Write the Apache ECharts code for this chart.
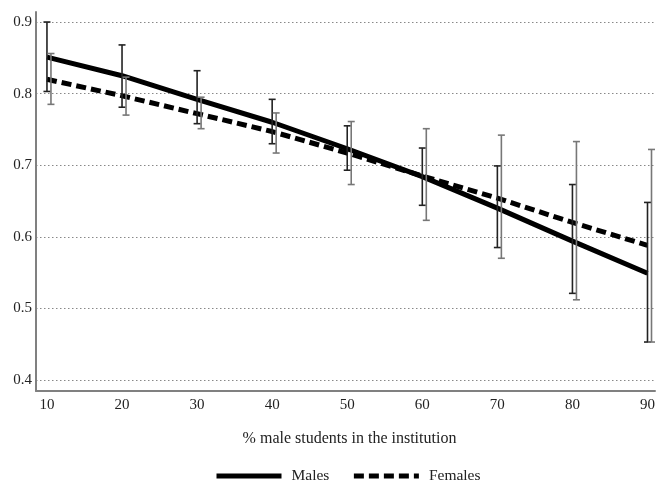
<!DOCTYPE html>
<html><head><meta charset="utf-8">
<script src="https://cdn.jsdelivr.net/npm/echarts@6/dist/echarts.min.js"></script>
<style>html,body{margin:0;padding:0;background:#fff}#c{width:658px;height:483px}</style>
</head><body><div id="c"></div>
<script>
const xValues = [10, 20, 30, 40, 50, 60, 70, 80, 90];
const xTicks = [10, 20, 30, 40, 50, 60, 70, 80, 90];
const yTicks = [0.4, 0.5, 0.6, 0.7, 0.8, 0.9];
const males = [0.851, 0.825, 0.792, 0.760, 0.723, 0.684, 0.640, 0.594, 0.549];
const females = [0.820, 0.797, 0.772, 0.747, 0.717, 0.685, 0.654, 0.620, 0.588];
const malesLow = [0.803, 0.781, 0.758, 0.730, 0.693, 0.644, 0.585, 0.521, 0.453];
const malesHigh = [0.900, 0.868, 0.832, 0.792, 0.755, 0.724, 0.699, 0.673, 0.648];
const femalesLow = [0.785, 0.770, 0.751, 0.717, 0.673, 0.623, 0.570, 0.512, 0.453];
const femalesHigh = [0.856, 0.823, 0.795, 0.773, 0.761, 0.751, 0.742, 0.733, 0.722];

const font = '"Liberation Serif", "DejaVu Serif", serif';
function errBar(color, dx) {
  return function (params, api) {
    const x = api.value(0), lo = api.value(1), hi = api.value(2);
    const pLo = api.coord([x, lo]), pHi = api.coord([x, hi]);
    const cx = pLo[0] + dx, w = 3.5;
    const st = { stroke: color, lineWidth: 1.6 };
    return { type: 'group', children: [
      { type: 'line', shape: { x1: cx, y1: pLo[1], x2: cx, y2: pHi[1] }, style: st },
      { type: 'line', shape: { x1: cx - w, y1: pLo[1], x2: cx + w, y2: pLo[1] }, style: st },
      { type: 'line', shape: { x1: cx - w, y1: pHi[1], x2: cx + w, y2: pHi[1] }, style: st }
    ]};
  };
}
const chart = echarts.init(document.getElementById('c'));
chart.setOption({
  animation: false,
  grid: { left: 36, right: 1, top: 12, bottom: 92 },
  xAxis: {
    type: 'value', min: 8.54, max: 91,
    name: '% male students in the institution', nameLocation: 'middle', nameGap: 40,
    nameTextStyle: { fontFamily: font, fontSize: 16, color: '#222', padding: [0, 0, 0, 8] },
    axisLine: { show: true, lineStyle: { color: '#808080', width: 2 } },
    axisTick: { show: false, customValues: xTicks },
    axisLabel: { customValues: xTicks, fontFamily: font, fontSize: 15, color: '#222', margin: 7 },
    splitLine: { show: false }
  },
  yAxis: {
    type: 'value', min: 0.3846, max: 0.914,
    axisLine: { show: true, lineStyle: { color: '#808080', width: 2 } },
    axisTick: { show: false, customValues: yTicks },
    axisLabel: { customValues: yTicks, fontFamily: font, fontSize: 15, color: '#222', margin: 4,
      formatter: v => v.toFixed(1) },
    splitLine: { show: true, lineStyle: { color: '#888', width: 1, type: [1.5, 2.5] } }
  },
  legend: {
    top: 463, left: 209, itemWidth: 65, itemHeight: 10, itemGap: 22,
    itemStyle: { opacity: 0 },
    lineStyle: { width: 5 },
    textStyle: { fontFamily: font, fontSize: 15.5, color: '#222', padding: [0, 0, 0, 5] },
    data: ['Males', 'Females']
  },
  series: [
    { name: 'Males', type: 'line', symbol: 'none', data: xValues.map((x, i) => [x, males[i]]),
      lineStyle: { color: '#000', width: 5 }, itemStyle: { color: '#000' }, z: 3 },
    { name: 'Females', type: 'line', symbol: 'none', data: xValues.map((x, i) => [x, females[i]]),
      lineStyle: { color: '#000', width: 5, type: [10, 5] }, itemStyle: { color: '#000' }, z: 3 },
    { type: 'custom', renderItem: errBar('#222', 0), data: xValues.map((x, i) => [x, malesLow[i], malesHigh[i]]), z: 4 },
    { type: 'custom', renderItem: errBar('#777', 4), data: xValues.map((x, i) => [x, femalesLow[i], femalesHigh[i]]), z: 4 }
  ]
});
</script></body></html>
